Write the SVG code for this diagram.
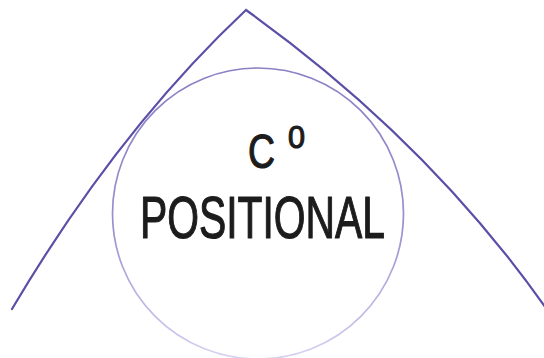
<svg xmlns="http://www.w3.org/2000/svg" width="544" height="358" viewBox="0 0 544 358">
  <style>
    .curve { fill: none; stroke: #5a4fa6; stroke-width: 2.2; stroke-linecap: round; stroke-linejoin: miter; }
    .lbl { font-family: "Liberation Sans", "DejaVu Sans", sans-serif; fill: #1c1c1c; stroke: #1c1c1c; stroke-width: 1.2; stroke-linejoin: round; }
  </style>
  <defs>
    <linearGradient id="ringGrad" x1="0" y1="0" x2="0" y2="1">
      <stop offset="0" stop-color="#8a80c4"/>
      <stop offset="0.55" stop-color="#9990d0"/>
      <stop offset="1" stop-color="#d6d2f0"/>
    </linearGradient>
  </defs>
  <rect width="544" height="358" fill="#ffffff"/>
  <g id="tent">
    <path class="curve" d="M12,309 Q118,130 246,10 Q429,141 548,311"/>
  </g>
  <g id="circle">
    <circle cx="258" cy="213.5" r="145.5" fill="none" stroke="url(#ringGrad)" stroke-width="1.7"/>
  </g>
  <g id="label">
    <text class="lbl"><tspan x="248" y="168" font-size="49" textLength="27" lengthAdjust="spacingAndGlyphs">C</tspan><tspan x="288" y="148" font-size="32" textLength="17" lengthAdjust="spacingAndGlyphs">0</tspan></text>
    <text class="lbl" x="140" y="238" font-size="60" textLength="245" lengthAdjust="spacingAndGlyphs">POSITIONAL</text>
  </g>
</svg>
